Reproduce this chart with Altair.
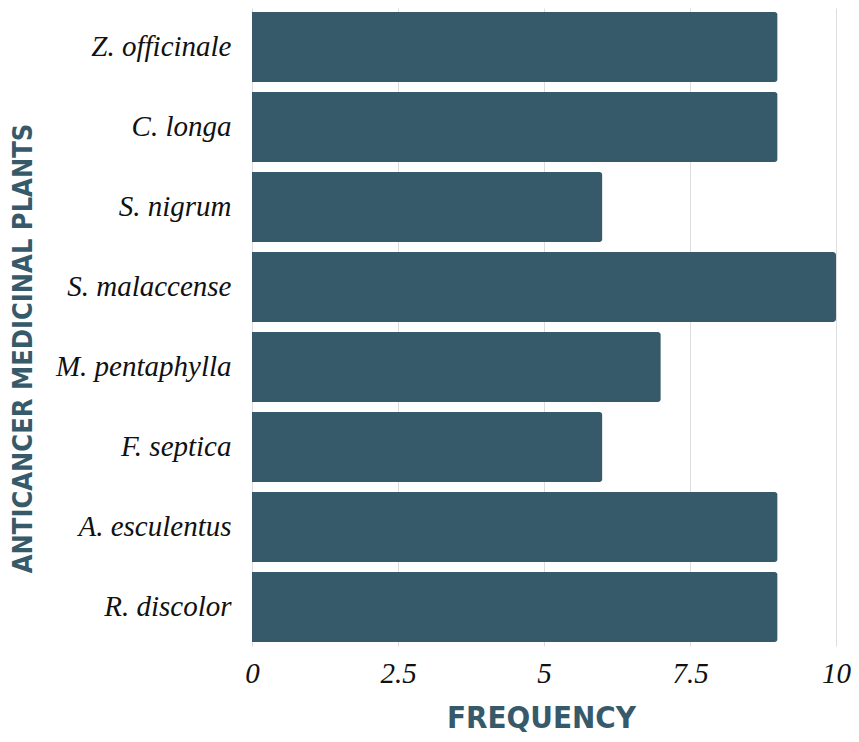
import altair as alt
import pandas as pd

plants = ["Z. officinale", "C. longa", "S. nigrum", "S. malaccense",
          "M. pentaphylla", "F. septica", "A. esculentus", "R. discolor"]
frequency = [9, 9, 6, 10, 7, 6, 9, 9]
x_ticks = [0, 2.5, 5, 7.5, 10]

df = pd.DataFrame({"plant": plants, "frequency": frequency})

BAR = "#375a6b"

chart = alt.Chart(df).mark_bar(color=BAR, cornerRadiusEnd=3).encode(
    x=alt.X("frequency:Q",
            scale=alt.Scale(domain=[0, 10], nice=False),
            axis=alt.Axis(values=x_ticks, format=".1~f", title="FREQUENCY",
                          domain=False, ticks=False, labelPadding=13,
                          labelFont="Liberation Serif", labelFontStyle="italic",
                          labelFontSize=29, labelColor="#111111",
                          labelFlush=False,
                          titleFont="DejaVu Sans Condensed", titleFontWeight="bold",
                          titleFontSize=31, titleColor=BAR,
                          titleX=289, titleY=72, titleBaseline="middle", titleAlign="center",
                          grid=True, gridColor="#dddddd", gridWidth=1)),
    y=alt.Y("plant:N", sort=plants,
            scale=alt.Scale(paddingInner=0.125, paddingOuter=0.05),
            axis=alt.Axis(title="ANTICANCER MEDICINAL PLANTS",
                          domain=False, ticks=False, labelPadding=21,
                          labelFont="Liberation Serif", labelFontStyle="italic",
                          labelFontSize=29, labelColor="#111111", labelLimit=300,
                          titleFont="DejaVu Sans Condensed", titleFontWeight="bold",
                          titleFontSize=27, titleColor=BAR,
                          titleX=-229, titleY=340, titleAngle=-90,
                          titleBaseline="middle", titleAlign="center",
                          grid=False)),
).properties(
    width=584, height=638,
    autosize=alt.AutoSizeParams(type="none"),
    padding={"left": 244, "top": 0, "right": 15, "bottom": 88},
).configure_view(stroke=None)

chart.save("out.html", embed_options={"renderer": "svg", "actions": False})
